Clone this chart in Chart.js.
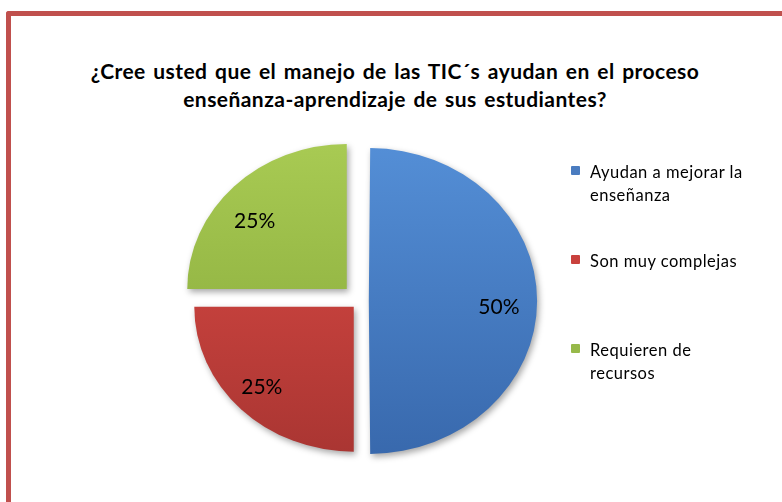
<!DOCTYPE html>
<html>
<head>
<meta charset="utf-8">
<script src="https://cdn.jsdelivr.net/npm/chart.js@4.4.1/dist/chart.umd.min.js"></script>
<style>
  html, body { margin: 0; padding: 0; background: #fff; }
  #wrap { position: relative; width: 782px; height: 502px; overflow: hidden; background: #fff; }
  #frame { position: absolute; left: 6px; top: 11px; width: 800px; height: 520px;
           border-top: 5px solid #c0504d; border-left: 5px solid #c0504d; border-top-left-radius: 3px; }
  #title { position: absolute; left: 20px; width: 750px; top: 57px; text-align: center;
           font-family: Lato, "Open Sans", sans-serif; font-weight: bold; font-size: 21px; line-height: 28px;
           letter-spacing: 0.45px; word-spacing: 2px; color: #000; }
  #c { position: absolute; left: 0; top: 0; }
  #legend { position: absolute; left: 571px; top: 161px; font-family: Lato, "Open Sans", sans-serif;
            font-size: 16.5px; line-height: 23px; color: #000; letter-spacing: 0.5px; }
  .item { position: absolute; left: 0; width: 210px; }
  .sw { position: absolute; left: 0; top: 5px; width: 9px; height: 9px; border-radius: 1px; }
  .tx { position: absolute; left: 19px; top: 0; width: 190px; }
</style>
</head>
<body>
<div id="wrap">
  <div id="frame"></div>
  <div id="title">¿Cree usted que el manejo de las TIC´s ayudan en el proceso<br>enseñanza-aprendizaje de sus estudiantes?</div>
  <canvas id="c" width="782" height="502"></canvas>
  <div id="legend"></div>
</div>
<script>
const categories = ["Ayudan a mejorar la enseñanza", "Son muy complejas", "Requieren de recursos"];
const legendLines = [["Ayudan a mejorar la", "enseñanza"], ["Son muy complejas"], ["Requieren de", "recursos"]];
const values = [50, 25, 25];
const percentLabels = ["50%", "25%", "25%"];
const colorsTop = ["#5590d8", "#e04c46", "#abcd55"];
const colorsBottom = ["#3767ab", "#a63431", "#82a437"];
const swatchColors = ["#4a7cc0", "#c9413d", "#97b94a"];
const explode = [8, 8, 17];
const legendTops = [0, 89, 178];
const stretchX = 1.1;

// legend
const leg = document.getElementById('legend');
categories.forEach((c, i) => {
  const it = document.createElement('div');
  it.className = 'item';
  it.style.top = legendTops[i] + 'px';
  const sw = document.createElement('div');
  sw.className = 'sw';
  sw.style.background = swatchColors[i];
  const tx = document.createElement('div');
  tx.className = 'tx';
  tx.innerHTML = legendLines[i].join('<br>');
  it.appendChild(sw); it.appendChild(tx);
  leg.appendChild(it);
});

// slight horizontal stretch + drop shadow, like the original bevelled pie
const shapePlugin = {
  id: 'shape',
  beforeDatasetsDraw(chart) {
    const ctx = chart.ctx;
    const arc = chart.getDatasetMeta(0).data[0];
    const cx = arc.x, cy = arc.y;
    ctx.save();
    ctx.translate(cx, cy);
    ctx.scale(stretchX, 1);
    ctx.translate(-cx, -cy);
    ctx.shadowColor = 'rgba(0,0,0,0.35)';
    ctx.shadowBlur = 6;
    ctx.shadowOffsetX = 2;
    ctx.shadowOffsetY = 3;
  },
  afterDatasetsDraw(chart) {
    chart.ctx.restore();
  }
};

const labelPlugin = {
  id: 'pctLabels',
  afterDatasetsDraw(chart) {
    const ctx = chart.ctx;
    const meta = chart.getDatasetMeta(0);
    ctx.save();
    ctx.font = '21px Lato, "Open Sans", sans-serif';
    ctx.fillStyle = '#000';
    ctx.textAlign = 'center';
    ctx.textBaseline = 'middle';
    meta.data.forEach((arc, i) => {
      const p = arc.getProps(['x', 'y', 'startAngle', 'endAngle', 'outerRadius'], true);
      const mid = (p.startAngle + p.endAngle) / 2;
      const d = p.outerRadius * 0.8 + explode[i];
      ctx.fillText(percentLabels[i], p.x + Math.cos(mid) * d * 1.12, p.y + Math.sin(mid) * d * 0.91 + 6);
    });
    ctx.restore();
  }
};

function grad(context, i) {
  const chart = context.chart;
  const area = chart.chartArea;
  if (!area) return swatchColors[i];
  const g = chart.ctx.createLinearGradient(0, area.top, 0, area.bottom);
  g.addColorStop(0, colorsTop[i]);
  g.addColorStop(1, colorsBottom[i]);
  return g;
}

new Chart(document.getElementById('c'), {
  type: 'pie',
  data: {
    labels: categories,
    datasets: [{
      data: values,
      backgroundColor: (ctx) => grad(ctx, ctx.dataIndex),
      borderWidth: 0,
      radius: 145,
      // Chart.js v4 arcs move by offset/4 pixels
      offset: explode.map(v => v * 4),
      hoverOffset: 0
    }]
  },
  options: {
    responsive: false,
    animation: false,
    layout: { padding: { left: 150, right: 212, top: 132, bottom: 32 } },
    plugins: { legend: { display: false }, tooltip: { enabled: false }, title: { display: false } }
  },
  plugins: [shapePlugin, labelPlugin]
});
</script>
</body>
</html>
